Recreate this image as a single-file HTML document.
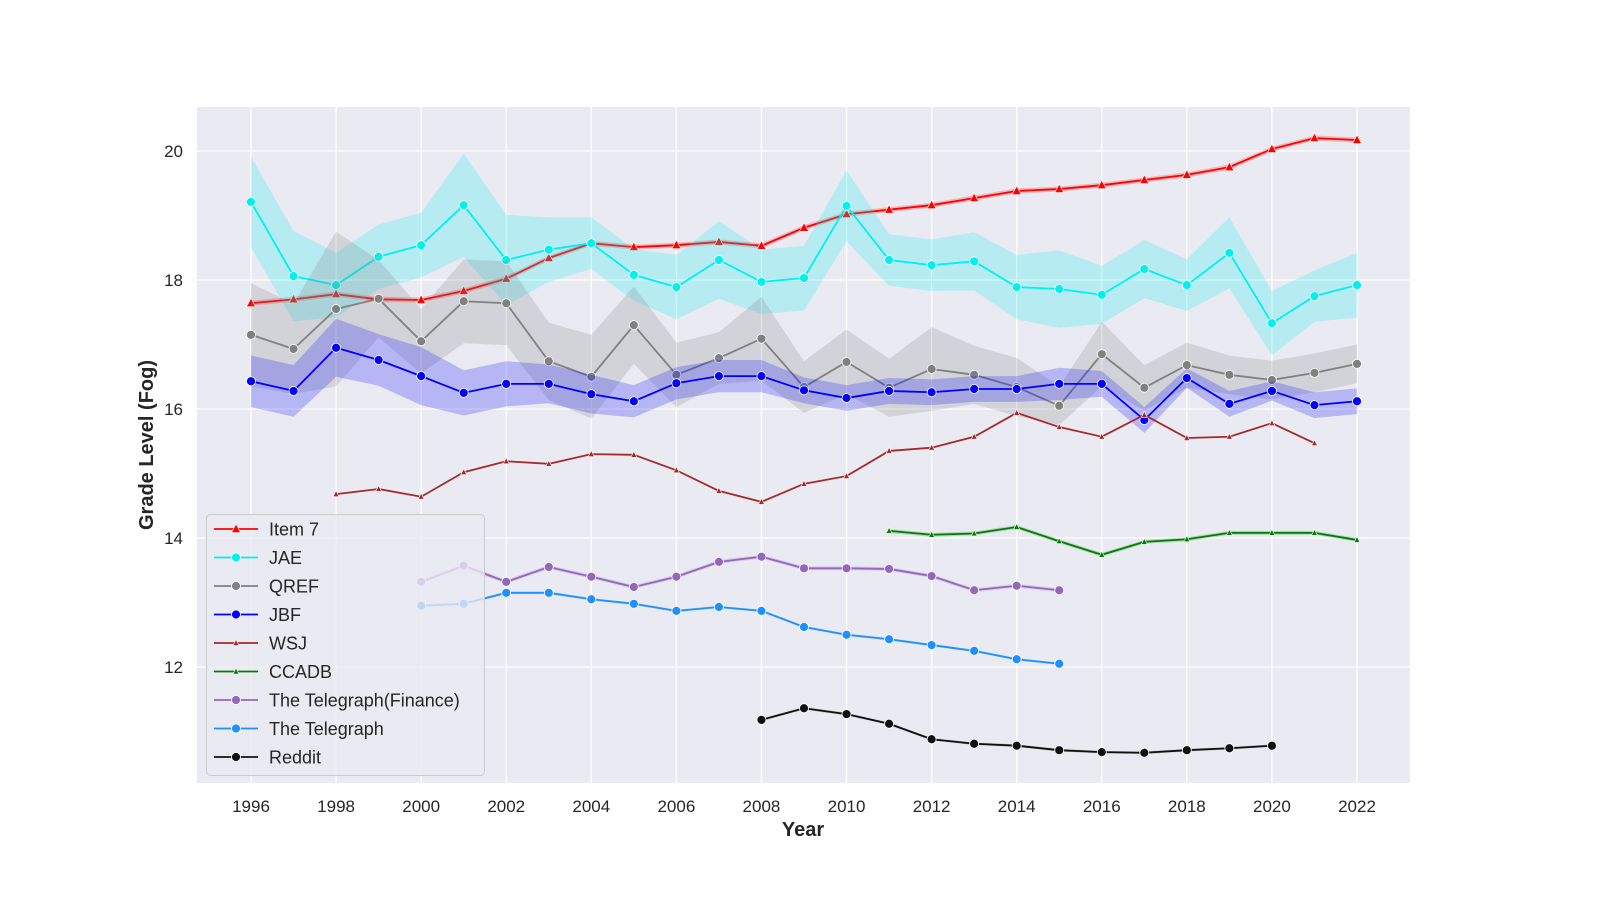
<!DOCTYPE html>
<html><head><meta charset="utf-8"><style>
body{margin:0;background:#fff;}
svg{display:block;font-family:"Liberation Sans",sans-serif;}
</style></head><body>
<svg id="chart" width="1600" height="900"></svg>
<script>
const years = [];for(let y=1996;y<=2022;y++)years.push(y);
const xTicks=[1996,1998,2000,2002,2004,2006,2008,2010,2012,2014,2016,2018,2020,2022];
const yTicks=[12,14,16,18,20];
const item7=[17.64,17.70,17.78,17.70,17.69,17.83,18.02,18.34,18.57,18.51,18.54,18.59,18.53,18.81,19.02,19.09,19.16,19.27,19.38,19.41,19.47,19.55,19.63,19.75,20.03,20.20,20.17];
const jae=[19.21,18.06,17.92,18.36,18.54,19.16,18.31,18.47,18.57,18.08,17.89,18.31,17.97,18.03,19.15,18.31,18.23,18.29,17.89,17.86,17.77,18.17,17.92,18.42,17.33,17.75,17.92];
const jaeErr=[0.7,0.7,0.5,0.5,0.5,0.8,0.7,0.5,0.4,0.4,0.5,0.6,0.5,0.5,0.55,0.4,0.4,0.45,0.5,0.6,0.45,0.45,0.4,0.55,0.5,0.4,0.5];
const qref=[17.15,16.93,17.55,17.71,17.05,17.67,17.64,16.74,16.50,17.30,16.53,16.79,17.09,16.34,16.73,16.33,16.62,16.53,16.34,16.05,16.85,16.33,16.68,16.53,16.45,16.56,16.70];
const qrefErr=[0.8,0.7,1.2,0.6,0.5,0.65,0.65,0.6,0.65,0.6,0.5,0.4,0.65,0.4,0.5,0.45,0.65,0.45,0.45,0.3,0.5,0.35,0.35,0.3,0.3,0.3,0.3];
const jbf=[16.43,16.28,16.95,16.76,16.51,16.25,16.39,16.39,16.23,16.12,16.40,16.51,16.51,16.29,16.17,16.28,16.26,16.31,16.31,16.39,16.39,15.83,16.48,16.08,16.28,16.06,16.12];
const jbfErr=[0.4,0.4,0.45,0.4,0.45,0.35,0.35,0.3,0.3,0.25,0.25,0.25,0.25,0.2,0.2,0.2,0.2,0.2,0.2,0.25,0.2,0.2,0.15,0.2,0.15,0.2,0.2];
const wsj=[null,null,14.68,14.76,14.64,15.02,15.19,15.15,15.30,15.29,15.05,14.73,14.56,14.84,14.96,15.35,15.40,15.57,15.94,15.72,15.57,15.91,15.55,15.57,15.78,15.47,null];
const ccadb=[null,null,null,null,null,null,null,null,null,null,null,null,null,null,null,14.11,14.05,14.07,14.17,13.95,13.74,13.94,13.98,14.08,14.08,14.08,13.97];
const telFin=[null,null,null,null,13.32,13.57,13.32,13.55,13.40,13.24,13.40,13.63,13.71,13.53,13.53,13.52,13.41,13.19,13.26,13.19,null,null,null,null,null,null,null];
const tel=[null,null,null,null,12.95,12.98,13.15,13.15,13.05,12.98,12.87,12.93,12.87,12.62,12.50,12.43,12.34,12.25,12.12,12.05,null,null,null,null,null,null,null];
const reddit=[null,null,null,null,null,null,null,null,null,null,null,null,11.18,11.36,11.27,11.12,10.88,10.81,10.78,10.71,10.68,10.67,10.71,10.74,10.78,null,null];

const NS="http://www.w3.org/2000/svg";
const svg=document.getElementById('chart');
function el(tag,attrs,parent){const e=document.createElementNS(NS,tag);for(const k in attrs)e.setAttribute(k,attrs[k]);(parent||svg).appendChild(e);return e;}
const X=y=>251+(y-1996)*(1357-251)/26;
const Y=v=>151+(20-v)*64.5;
const L=197,R=1410,T=107,B=783;

const bg=el('rect',{x:L,y:T,width:R-L,height:B-T,fill:'#eaeaf2'});


const grid=el('g',{});


xTicks.forEach(t=>{el('line',{x1:X(t),x2:X(t),y1:T,y2:B,stroke:'#fff','stroke-width':1.3},grid);
  const tx=el('text',{x:X(t),y:812,'text-anchor':'middle','font-size':17,fill:'#262626'});tx.textContent=t;
  
  });
yTicks.forEach(t=>{el('line',{x1:L,x2:R,y1:Y(t),y2:Y(t),stroke:'#fff','stroke-width':1.3},grid);
  const tx=el('text',{x:183,y:Y(t)+6,'text-anchor':'end','font-size':17,fill:'#262626'});tx.textContent=t;
  
  });
const xt=el('text',{x:803,y:836,'text-anchor':'middle','font-size':20,'font-weight':'bold',fill:'#262626'});xt.textContent='Year';


const yt=el('text',{x:0,y:0,'text-anchor':'middle','font-size':20,'font-weight':'bold',fill:'#262626',transform:'translate(153,445) rotate(-90)'});yt.textContent='Grade Level (Fog)';



const series=[
 {n:'Item 7',d:item7,c:'#ff0000',m:'tri',e:years.map(()=>0.04)},
 {n:'JAE',d:jae,c:'#00f0f0',m:'circ',e:jaeErr},
 {n:'QREF',d:qref,c:'#808080',m:'circ',e:qrefErr},
 {n:'JBF',d:jbf,c:'#0000ff',m:'circ',e:jbfErr},
 {n:'WSJ',d:wsj,c:'#a52a2a',m:'small',e:null},
 {n:'CCADB',d:ccadb,c:'#008000',m:'small',e:years.map(()=>0.03)},
 {n:'The Telegraph(Finance)',d:telFin,c:'#9467bd',m:'circ',e:years.map(()=>0.03)},
 {n:'The Telegraph',d:tel,c:'#1e90ff',m:'circ',e:years.map(()=>0.02)},
 {n:'Reddit',d:reddit,c:'#111111',m:'circ',e:years.map(()=>0.02)}
];
function marker(m,x,y,c,g){
 if(m==='circ')return el('circle',{cx:x,cy:y,r:4.5,fill:c,stroke:'#fff','stroke-width':0.8},g);
 if(m==='tri')return el('path',{d:`M${x},${y-5}L${x+4.5},${y+3.5}L${x-4.5},${y+3.5}Z`,fill:c,stroke:'#fff','stroke-width':0.6},g);
 return el('path',{d:`M${x},${y-3.5}L${x+3},${y+2.5}L${x-3},${y+2.5}Z`,fill:c,stroke:'#fff','stroke-width':0.6},g);
}
series.forEach(s=>{
 const g=el('g',{});
 
 
 const idx=years.map((y,i)=>i).filter(i=>s.d[i]!=null);
 if(s.e){
  const up=idx.map(i=>X(years[i])+','+Y(s.d[i]+s.e[i]));
  const lo=idx.slice().reverse().map(i=>X(years[i])+','+Y(s.d[i]-s.e[i]));
  const band=el('polygon',{points:up.concat(lo).join(' '),fill:s.c,'fill-opacity':0.22,stroke:'none'},g);
  
  
 }
 const line=el('polyline',{points:idx.map(i=>X(years[i])+','+Y(s.d[i])).join(' '),fill:'none',stroke:s.c,'stroke-width':1.8},g);
 
 
 idx.forEach(i=>{const mk=marker(s.m,X(years[i]),Y(s.d[i]),s.c,g);
  
  });
});

const lg=el('g',{});


el('rect',{x:206.5,y:514.5,width:278,height:261,rx:4,fill:'#eaeaf2','fill-opacity':0.8,stroke:'#cccccc'},lg);
series.forEach((s,k)=>{
 const y=529+k*28.5;
 const eg=el('g',{},lg);
 
 
 el('line',{x1:214,x2:258,y1:y,y2:y,stroke:s.c,'stroke-width':1.8},eg);
 marker(s.m,236,y,s.c,eg);
 const t=el('text',{x:269,y:y+6.5,'font-size':18,fill:'#262626'},eg);t.textContent=s.n;
});
</script>
</body></html>
